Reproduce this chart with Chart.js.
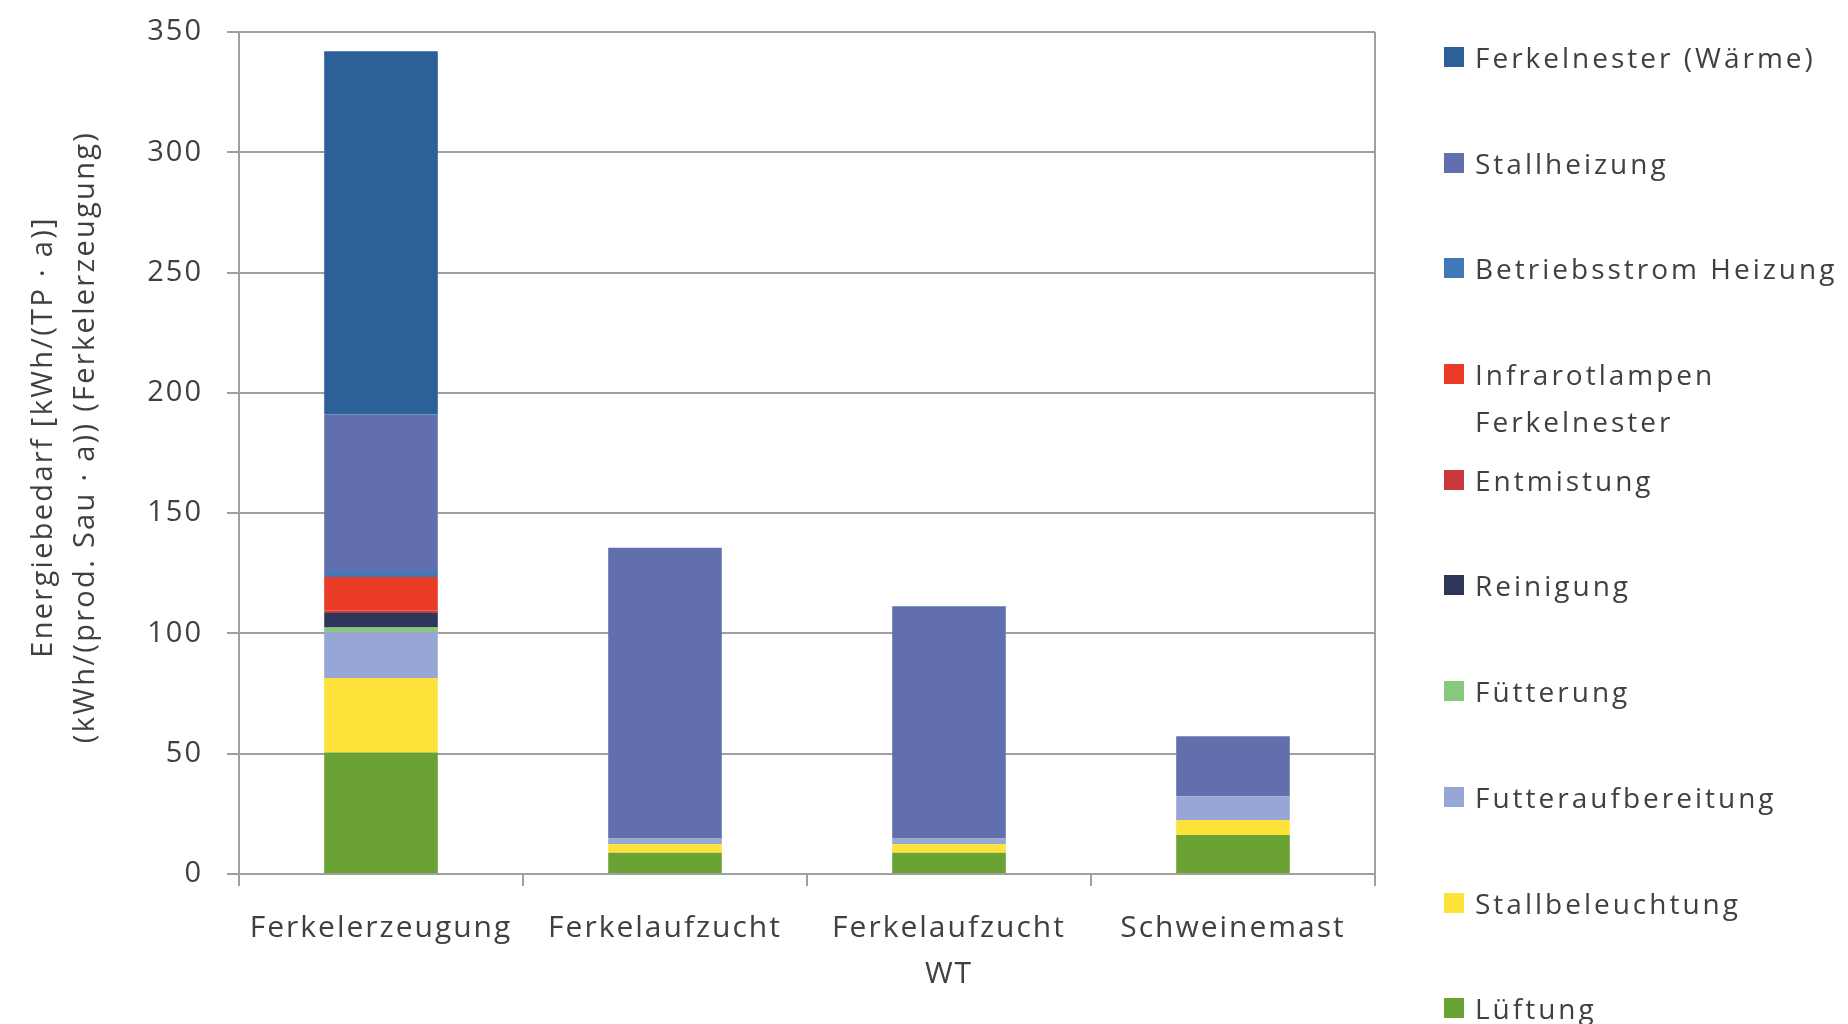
<!DOCTYPE html>
<html lang="de">
<head>
<meta charset="utf-8">
<title>Energiebedarf Schweinehaltung</title>
<script src="https://cdn.jsdelivr.net/npm/chart.js@4/dist/chart.umd.min.js"></script>
<style>
  body { margin: 0; background: #fff; }
  .wrap { position: relative; width: 1848px; height: 1024px; }
  #legend {
    position: absolute; left: 1444px; top: 34px; margin: 0; padding: 0; list-style: none;
    font-family: "Open Sans", sans-serif; font-size: 28px; letter-spacing: 3px; color: #404040;
  }
  #legend li { height: 105.7px; line-height: 47px; display: flex; align-items: flex-start; }
  #legend .box { width: 20px; height: 20px; margin: 13px 11px 0 0; flex: none; }
</style>
</head>
<body>
<div class="wrap">
  <canvas id="chart" width="1848" height="1024"></canvas>
  <ul id="legend"></ul>
</div>
<script>
const categories = ["Ferkelerzeugung", "Ferkelaufzucht", ["Ferkelaufzucht", "WT"], "Schweinemast"];

// stacked bottom to top
const lueftung          = [50.5, 8.8, 8.8, 16.2];
const stallbeleuchtung  = [31, 3.6, 3.6, 6.2];
const futteraufbereitung = [19, 2.4, 2.4, 9.9];
const fuetterung        = [2, 0, 0, 0];
const reinigung         = [6, 0, 0, 0];
const entmistung        = [1, 0, 0, 0];
const infrarotlampen    = [14, 0, 0, 0];
const betriebsstrom     = [2.5, 0, 0, 0];
const stallheizung      = [65, 120.8, 96.5, 25];
const ferkelnester      = [151, 0, 0, 0];

const yTicks = [0, 50, 100, 150, 200, 250, 300, 350];
const yTitle = ["Energiebedarf [kWh/(TP · a)]", "(kWh/(prod. Sau · a)) (Ferkelerzeugung)"];

const series = [
  { label: "Lüftung", data: lueftung, color: "#6aa233" },
  { label: "Stallbeleuchtung", data: stallbeleuchtung, color: "#fde23a" },
  { label: "Futteraufbereitung", data: futteraufbereitung, color: "#98a6d6" },
  { label: "Fütterung", data: fuetterung, color: "#86c97e" },
  { label: "Reinigung", data: reinigung, color: "#2d3558" },
  { label: "Entmistung", data: entmistung, color: "#c8383c" },
  { label: ["Infrarotlampen", "Ferkelnester"], data: infrarotlampen, color: "#ea3b26" },
  { label: "Betriebsstrom Heizung", data: betriebsstrom, color: "#4078b8" },
  { label: "Stallheizung", data: stallheizung, color: "#6170ad" },
  { label: "Ferkelnester (Wärme)", data: ferkelnester, color: "#2c6098" },
];

const gridColor = "#a0a0a0";
const textColor = "#404040";
const font = "'Open Sans', sans-serif";

// wider text spacing on the canvas
const spacing = {
  id: "spacing",
  beforeUpdate(chart) { chart.ctx.letterSpacing = "2px"; },
  beforeDraw(chart) { chart.ctx.letterSpacing = "2px"; },
};

// right edge of the plot frame and the two-line y title
const frame = {
  id: "frame",
  afterDraw(chart) {
    const { ctx, chartArea } = chart;
    ctx.save();
    ctx.strokeStyle = gridColor;
    ctx.lineWidth = 2;
    ctx.beginPath();
    ctx.moveTo(chartArea.right, chartArea.top);
    ctx.lineTo(chartArea.right, chartArea.bottom + 12);
    ctx.stroke();

    ctx.letterSpacing = "2.3px";
    ctx.font = "29px " + font;
    ctx.fillStyle = textColor;
    ctx.textAlign = "center";
    ctx.textBaseline = "middle";
    ctx.translate(44, 437);
    ctx.rotate(-Math.PI / 2);
    yTitle.forEach((line, i) => ctx.fillText(line, 0, i * 42));
    ctx.restore();
  },
};

const chart = new Chart(document.getElementById("chart"), {
  type: "bar",
  data: {
    labels: categories,
    datasets: series.map((s) => ({
      label: s.label,
      data: s.data,
      backgroundColor: s.color,
      borderWidth: 0,
      categoryPercentage: 1,
      barPercentage: 0.4,
    })),
  },
  options: {
    responsive: false,
    animation: false,
    devicePixelRatio: 1,
    layout: { padding: { top: 32, right: 473, bottom: 0, left: 0 } },
    plugins: { legend: { display: false }, tooltip: { enabled: false } },
    scales: {
      x: {
        stacked: true,
        afterFit: (scale) => { scale.height = 150; },
        grid: { drawOnChartArea: false, offset: true, color: gridColor, lineWidth: 2, tickLength: 12 },
        border: { color: gridColor, width: 2 },
        ticks: { color: textColor, padding: 20, font: { family: font, size: 30, lineHeight: 1.53 } },
      },
      y: {
        stacked: true,
        min: 0,
        max: 350,
        afterFit: (scale) => {
          scale.width = 239;
          scale.paddingTop = 10;
          scale.paddingBottom = 10;
        },
        afterBuildTicks: (scale) => { scale.ticks = yTicks.map((v) => ({ value: v })); },
        grid: { color: gridColor, lineWidth: 2, tickLength: 12 },
        border: { color: gridColor, width: 2 },
        ticks: { color: textColor, padding: 24, font: { family: font, size: 29 } },
      },
    },
  },
  plugins: [spacing, frame],
});

// legend, top entry is the top of the stack
const legend = document.getElementById("legend");
chart.data.datasets.slice().reverse().forEach((ds) => {
  const li = document.createElement("li");
  const box = document.createElement("span");
  box.className = "box";
  box.style.background = ds.backgroundColor;
  const text = document.createElement("span");
  text.innerHTML = [].concat(ds.label).join("<br>");
  li.appendChild(box);
  li.appendChild(text);
  legend.appendChild(li);
});
</script>
</body>
</html>
